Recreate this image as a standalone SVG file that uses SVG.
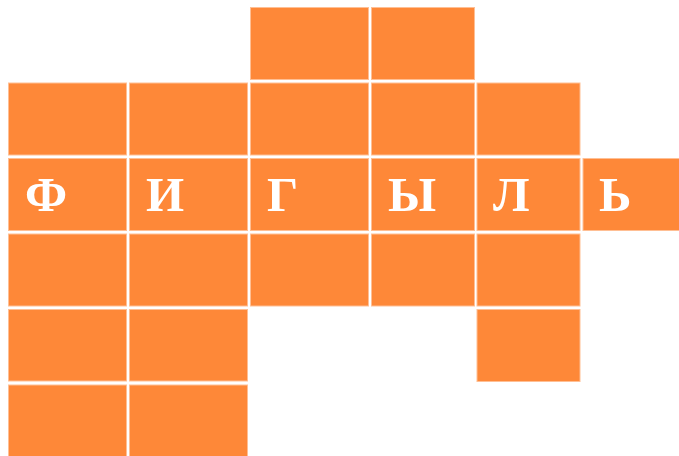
<svg xmlns="http://www.w3.org/2000/svg" width="679" height="456" viewBox="0 0 679 456">
<style>
.c{fill:#fe8838;stroke:#ffbf94;stroke-width:1}
.t{fill:#ffffff;font-family:"Liberation Serif","Times New Roman",serif;font-weight:bold;font-size:49px}
</style>
<rect width="679" height="456" fill="#ffffff"/>
<g id="r0">
<rect class="c" x="250.5" y="7.5" width="118" height="72"/>
<rect class="c" x="371.5" y="7.5" width="103" height="72"/>
</g>
<g id="r1">
<rect class="c" x="8.5" y="83" width="118" height="72"/>
<rect class="c" x="129.5" y="83" width="118" height="72"/>
<rect class="c" x="250.5" y="83" width="118" height="72"/>
<rect class="c" x="371.5" y="83" width="103" height="72"/>
<rect class="c" x="477" y="83" width="103" height="72"/>
</g>
<g id="r2">
<g id="n-f"><rect class="c" x="8.5" y="158.5" width="118" height="72"/><text class="t" x="25" y="211">Ф</text></g>
<g id="n-i"><rect class="c" x="129.5" y="158.5" width="118" height="72"/><text class="t" x="146" y="211">И</text></g>
<g id="n-g"><rect class="c" x="250.5" y="158.5" width="118" height="72"/><text class="t" x="267" y="211">Г</text></g>
<g id="n-y"><rect class="c" x="371.5" y="158.5" width="103" height="72"/><text class="t" x="388" y="211">Ы</text></g>
<g id="n-l"><rect class="c" x="477" y="158.5" width="103" height="72"/><text class="t" x="493" y="211">Л</text></g>
<g id="n-s"><rect class="c" x="583" y="158.5" width="103" height="72"/><text class="t" x="599" y="211">Ь</text></g>
</g>
<g id="r3">
<rect class="c" x="8.5" y="234" width="118" height="72"/>
<rect class="c" x="129.5" y="234" width="118" height="72"/>
<rect class="c" x="250.5" y="234" width="118" height="72"/>
<rect class="c" x="371.5" y="234" width="103" height="72"/>
<rect class="c" x="477" y="234" width="103" height="72"/>
</g>
<g id="r4">
<rect class="c" x="8.5" y="309.5" width="118" height="71.5"/>
<rect class="c" x="129.5" y="309.5" width="118" height="71.5"/>
<rect class="c" x="477" y="309.5" width="103" height="72"/>
</g>
<g id="r5">
<rect class="c" x="8.5" y="385" width="118" height="75"/>
<rect class="c" x="129.5" y="385" width="118" height="75"/>
</g>
</svg>
